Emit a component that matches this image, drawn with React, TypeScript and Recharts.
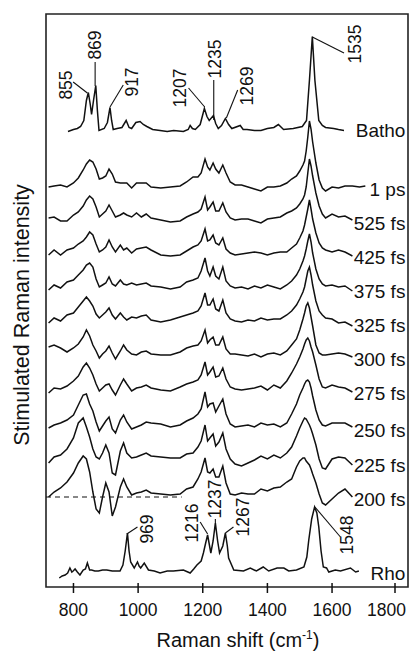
import { LineChart, Line, XAxis, YAxis, ReferenceLine, ReferenceDot, ReferenceArea } from "recharts";

// Raman shift axis (cm-1) and vertical units (offset + intensity)
const shiftDomain = [715, 1835];
const intensityDomain = [0, 573];
const shiftTicks = [800, 1000, 1200, 1400, 1600, 1800];

// Batho reference spectrum
const bathoShift = [783, 800, 812, 822, 832, 840, 846, 852, 856, 862, 869, 874, 879, 895, 905, 913, 918, 923, 935, 950, 963, 972, 980, 993, 1006, 1016, 1027, 1045, 1068, 1090, 1110, 1140, 1155, 1161, 1168, 1177, 1192, 1205, 1213, 1220, 1233, 1240, 1248, 1258, 1270, 1280, 1290, 1316, 1325, 1337, 1360, 1380, 1400, 1420, 1434, 1450, 1480, 1508, 1521, 1530, 1539, 1547, 1559, 1570, 1580, 1605, 1620, 1637];
const bathoInt = [-1, 1, 2, 4, 10, 30, 38, 26, 16, 30, 45, 20, 0, 2, 8, 23, 10, 1, 2, 3, 10, 3, 2, 8, 9, 6, 4, 1, 0, -1, 0, -1, 1, 5, 2, 1, 6, 22, 14, 10, 15, 7, 2, 5, 12, 6, 2, 5, 1, 1, 0, 0, 2, 3, 6, 1, 2, 4, 10, 50, 94, 50, 10, 5, 3, 2, 1, 0];

// Rho reference spectrum
const rhoShift = [756, 765, 774, 782, 789, 795, 799, 805, 812, 820, 830, 837, 843, 850, 856, 866, 877, 890, 903, 920, 944, 953, 960, 967, 972, 977, 988, 998, 1003, 1008, 1019, 1032, 1050, 1068, 1090, 1109, 1140, 1161, 1172, 1182, 1195, 1202, 1209, 1215, 1225, 1232, 1239, 1246, 1252, 1262, 1270, 1276, 1280, 1296, 1326, 1347, 1366, 1387, 1404, 1430, 1451, 1466, 1490, 1513, 1522, 1528, 1537, 1546, 1553, 1559, 1566, 1573, 1583, 1590, 1610, 1626, 1657, 1673, 1683];
const rhoInt = [-7, -5, -4, -2, 3, -1, 0, 2, -1, -4, 1, 2, 8, 1, 1, 0, 0, 1, 1, 0, 0, 6, 20, 38, 20, 9, 3, 9, 5, 3, 8, 1, 0, -2, 0, 0, 1, -2, 2, 6, 10, 18, 28, 36, 18, 30, 48, 30, 18, 25, 38, 25, 13, 1, 0, 3, 0, 4, 0, 3, 3, 0, 1, 4, 14, 31, 52, 64, 58, 44, 20, 4, 3, -1, 1, 0, 3, -1, 0];

// time-resolved spectra, common shift grid
const trShift = [723, 740, 760, 780, 800, 815, 830, 840, 850, 860, 870, 880, 890, 900, 910, 920, 930, 945, 955, 965, 980, 995, 1010, 1025, 1040, 1070, 1100, 1130, 1150, 1170, 1185, 1195, 1207, 1215, 1222, 1232, 1240, 1250, 1262, 1272, 1285, 1300, 1320, 1340, 1360, 1380, 1400, 1420, 1440, 1460, 1475, 1490, 1500, 1510, 1515, 1520, 1525, 1530, 1535, 1540, 1550, 1560, 1570, 1580, 1600, 1620, 1640, 1663];
const int1ps = [0, 1, 2, 0, 4, 9, 17, 23, 27, 25, 18, 8, 9, 11, 18, 13, 5, 4, 4, 4, -1, 4, 4, 4, 0, -1, 0, 1, 5, 10, 10, 14, 28, 20, 17, 24, 18, 14, 22, 14, 5, 2, 2, 0, -2, -4, 0, 0, 1, 4, 8, 11, 16, 22, 26, 36, 50, 66, 58, 45, 24, 7, -1, -4, 0, -1, 1, 1];
const tail1psShift = [1685, 1703];
const tail1psInt = [0, 1];
const int525 = [3, 4, 0, 0, 6, 9, 15, 21, 25, 22, 14, 4, 7, 10, 16, 10, 4, 6, 8, 6, 4, 8, 4, 7, 3, 1, -1, 0, 4, 7, 9, 12, 24, 11, 14, 19, 10, 10, 18, 9, 3, 1, 2, 2, 0, -2, 2, 3, 4, 8, 10, 13, 17, 22, 26, 34, 48, 62, 55, 45, 28, 15, 7, 3, 7, 4, 5, 1];
const int425 = [0, 5, 0, 5, 7, 11, 14, 18, 23, 20, 11, 3, 5, 8, 15, 8, 3, 10, 5, 7, 2, 6, 7, 8, 5, 0, -1, 0, 4, 8, 10, 14, 26, 14, 15, 20, 12, 10, 17, 6, 2, 0, 1, 2, 3, 2, 0, 2, 3, 3, 7, 11, 17, 24, 30, 38, 46, 55, 46, 36, 22, 12, 7, 5, 3, 5, 3, -1];
const int375 = [-1, 4, 1, 7, 9, 14, 19, 24, 26, 22, 10, 2, 4, 6, 12, 5, 3, 9, 5, 4, 6, 4, 5, 6, 3, 2, 0, 2, 7, 9, 11, 18, 31, 18, 13, 22, 13, 10, 22, 8, 3, 1, 2, 0, 3, 1, 4, 2, 0, 4, 8, 14, 20, 28, 33, 40, 48, 55, 47, 36, 20, 10, 5, 3, 4, 2, 3, -2];
const int325 = [0, 5, 2, 8, 10, 16, 22, 26, 22, 17, 9, 5, 8, 11, 15, 8, 4, 10, 6, 3, 6, 5, 7, 8, 3, 1, 3, 6, 8, 10, 12, 17, 30, 18, 18, 24, 14, 12, 23, 10, 4, 2, 1, 3, 2, 5, 3, 4, 4, 8, 12, 18, 24, 31, 36, 44, 52, 56, 48, 38, 22, 12, 8, 5, 4, 0, 1, -3];
const int300 = [10, 12, 9, 5, 9, 13, 20, 27, 21, 12, 6, -1, 3, 6, 11, 4, -2, 6, 12, 7, 3, 2, 5, 6, 3, 2, 2, 5, 9, 11, 12, 16, 27, 14, 17, 20, 12, 12, 20, 8, 3, 3, 2, 1, 3, 0, 3, 4, 2, 6, 12, 18, 27, 38, 44, 51, 54, 49, 40, 31, 12, 4, 2, 2, 3, 4, 3, 0];
const int275 = [-2, 3, 2, 5, 10, 15, 24, 28, 23, 16, 7, 0, 3, 6, 7, 1, -4, 6, 12, 7, 0, 3, 4, 6, 3, 1, 0, 4, 7, 9, 11, 16, 29, 16, 19, 24, 14, 15, 23, 12, 4, 2, 1, 2, 3, 5, 1, 6, 3, 10, 18, 27, 34, 42, 47, 51, 53, 50, 44, 39, 26, 12, 4, 3, 6, 4, 3, -1];
const int250 = [0, 3, 5, 8, 13, 23, 33, 34, 24, 17, 6, -3, 2, 7, 11, -1, -5, 8, 13, 6, -1, 1, 3, 6, 5, 4, 1, 3, 7, 10, 14, 19, 36, 21, 24, 25, 16, 22, 29, 14, 4, 1, 2, 3, 1, 5, 3, 4, 1, 5, 14, 24, 33, 40, 44, 47, 48, 46, 40, 32, 18, 8, 3, 2, 5, 5, 5, 1];
const int225 = [0, 6, 8, 14, 25, 40, 45, 36, 26, 14, 6, 4, 10, 18, 10, -10, -12, 12, 20, 10, 5, 6, 8, 10, 7, 6, 5, 5, 9, 10, 16, 22, 38, 22, 25, 29, 17, 21, 30, 14, 4, -1, -3, 0, 3, 7, 4, 8, 5, 10, 16, 27, 35, 42, 45, 44, 41, 38, 34, 29, 18, 4, -5, -6, 4, 6, 5, -2];
const int200 = [0, 5, 9, 15, 24, 34, 41, 38, 25, 5, -12, -16, 0, 14, 5, -19, -10, 10, 18, 10, 2, 4, 5, 7, 4, 3, 2, 3, 8, 10, 18, 25, 39, 25, 24, 28, 20, 20, 31, 14, 3, 2, 4, 3, 3, 8, 6, 9, 10, 15, 18, 30, 36, 39, 39, 36, 34, 32, 28, 23, 14, 3, -6, -8, -2, 4, 8, 0];

const delayLabels = ["1 ps", "525 fs", "425 fs", "375 fs", "325 fs", "300 fs", "275 fs", "250 fs", "225 fs", "200 fs"];
const delayInts = [int1ps, int525, int425, int375, int325, int300, int275, int250, int225, int200];
const delayOffsets = [400, 366, 332, 298, 264, 230, 196, 159, 124, 90];
const bathoOffset = 456.5;
const rhoOffset = 16;

// peak annotations: label centre and leader line, in data units
const bathoNotes = [
  { text: "855", tx: 778, ty: 502, x1: 799, y1: 505, x2: 843, y2: 494 },
  { text: "869", tx: 867, ty: 542, x1: 867, y1: 525, x2: 867, y2: 501 },
  { text: "917", tx: 980, ty: 505, x1: 954, y1: 502, x2: 913, y2: 480 },
  { text: "1207", tx: 1130, ty: 499, x1: 1156, y1: 499, x2: 1206, y2: 480 },
  { text: "1235", tx: 1238, ty: 528, x1: 1234, y1: 507, x2: 1234, y2: 467 },
  { text: "1269", tx: 1336, ty: 501, x1: 1308, y1: 497, x2: 1273, y2: 469 },
  { text: "1535", tx: 1671, ty: 543, x1: 1539, y1: 550, x2: 1637, y2: 534 },
];
const rhoNotes = [
  { text: "969", tx: 1026, ty: 58, x1: 965, y1: 53, x2: 998, y2: 60 },
  { text: "1216", tx: 1166, ty: 64, x1: 1192, y1: 65, x2: 1215, y2: 53 },
  { text: "1237", tx: 1237, ty: 88, x1: 1239, y1: 68, x2: 1239, y2: 64 },
  { text: "1267", tx: 1323, ty: 70, x1: 1295, y1: 60, x2: 1270, y2: 54 },
  { text: "1548", tx: 1646, ty: 52, x1: 1547, y1: 80, x2: 1626, y2: 50 },
];

const FONT = "'Liberation Sans', Arial, Helvetica, sans-serif";
const INK = "#111";

const toPoints = (xs: number[], ys: number[], off: number) => xs.map((x, i) => ({ x, y: ys[i] + off }));

const rotatedText = (text: string, size: number) => (p: any) => (
  <text
    x={p.cx}
    y={p.cy}
    transform={`rotate(-90 ${p.cx} ${p.cy})`}
    textAnchor="middle"
    dominantBaseline="central"
    fontSize={size}
    fontFamily={FONT}
    fill={INK}
  >
    {text}
  </text>
);

const rightText = (text: string) => (p: any) => (
  <text x={p.cx} y={p.cy} textAnchor="end" dominantBaseline="central" fontSize={19} fontFamily={FONT} fill={INK}>
    {text}
  </text>
);

// last label is pulled in so it stays inside the frame, as in the original
const ShiftTick = (p: any) => {
  const last = p.payload.value === shiftTicks[shiftTicks.length - 1];
  return (
    <g>
      <line x1={p.x} x2={p.x} y1={p.y - 4} y2={p.y + 6} stroke={INK} strokeWidth={1.5} />
      <text
        x={last ? p.x + 11 : p.x}
        y={p.y + 29}
        textAnchor={last ? "end" : "middle"}
        fontSize={17.5}
        fontFamily={FONT}
        fill={INK}
      >
        {p.payload.value}
      </text>
    </g>
  );
};

export default function App() {
  const spectra = [
    toPoints(bathoShift, bathoInt, bathoOffset),
    toPoints(trShift.concat(tail1psShift), int1ps.concat(tail1psInt), delayOffsets[0]),
    ...delayInts.slice(1).map((ys, i) => toPoints(trShift, ys, delayOffsets[i + 1])),
    toPoints(rhoShift, rhoInt, rhoOffset),
  ];

  return (
    <div style={{ position: "absolute", left: 0, top: 0, background: "#fff" }}>
      <LineChart width={411} height={652} margin={{ top: 14, right: 3, bottom: 5, left: 46 }}>
        <XAxis
          dataKey="x"
          type="number"
          domain={shiftDomain}
          ticks={shiftTicks}
          height={60}
          axisLine={false}
          tickLine={false}
          tickSize={0}
          tickMargin={0}
          tick={<ShiftTick />}
          allowDataOverflow
        />
        <YAxis type="number" domain={intensityDomain} hide width={0} allowDataOverflow />
        <ReferenceArea x1={715} x2={1835} y1={0} y2={573} fill="none" stroke="#222" strokeWidth={1.6} ifOverflow="visible" />
        <ReferenceLine segment={[{ x: 715, y: delayOffsets[9] }, { x: 1135, y: delayOffsets[9] }]} stroke={INK} strokeWidth={1.2} strokeDasharray="5 4" />
        {spectra.map((pts, i) => (
          <Line
            key={i}
            data={pts}
            dataKey="y"
            type="linear"
            dot={false}
            stroke={INK}
            strokeWidth={1.5}
            isAnimationActive={false}
          />
        ))}
        {[...bathoNotes, ...rhoNotes].map((n) => (
          <ReferenceLine key={"l" + n.text} segment={[{ x: n.x1, y: n.y1 }, { x: n.x2, y: n.y2 }]} stroke={INK} strokeWidth={1.1} />
        ))}
        {[...bathoNotes, ...rhoNotes].map((n) => (
          <ReferenceDot key={"t" + n.text} x={n.tx} y={n.ty} r={0} ifOverflow="visible" shape={rotatedText(n.text, 17.5)} />
        ))}
        <ReferenceDot x={1827} y={bathoOffset} r={0} ifOverflow="visible" shape={rightText("Batho")} />
        {delayLabels.map((d, i) => (
          <ReferenceDot key={d} x={1827} y={delayOffsets[i] - 2} r={0} ifOverflow="visible" shape={rightText(d)} />
        ))}
        <ReferenceDot x={1827} y={rhoOffset - 2} r={0} ifOverflow="visible" shape={rightText("Rho")} />
        <ReferenceDot x={641} y={272} r={0} ifOverflow="visible" shape={rotatedText("Stimulated Raman intensity", 21.5)} />
        <ReferenceDot
          x={1309}
          y={-60}
          r={0}
          ifOverflow="visible"
          shape={(p: any) => (
            <text x={p.cx} y={p.cy} textAnchor="middle" fontSize={20} fontFamily={FONT} fill={INK}>
              <tspan>Raman shift (cm</tspan>
              <tspan dy={-8} fontSize={12}>-1</tspan>
              <tspan dy={8}>)</tspan>
            </text>
          )}
        />
      </LineChart>
    </div>
  );
}
